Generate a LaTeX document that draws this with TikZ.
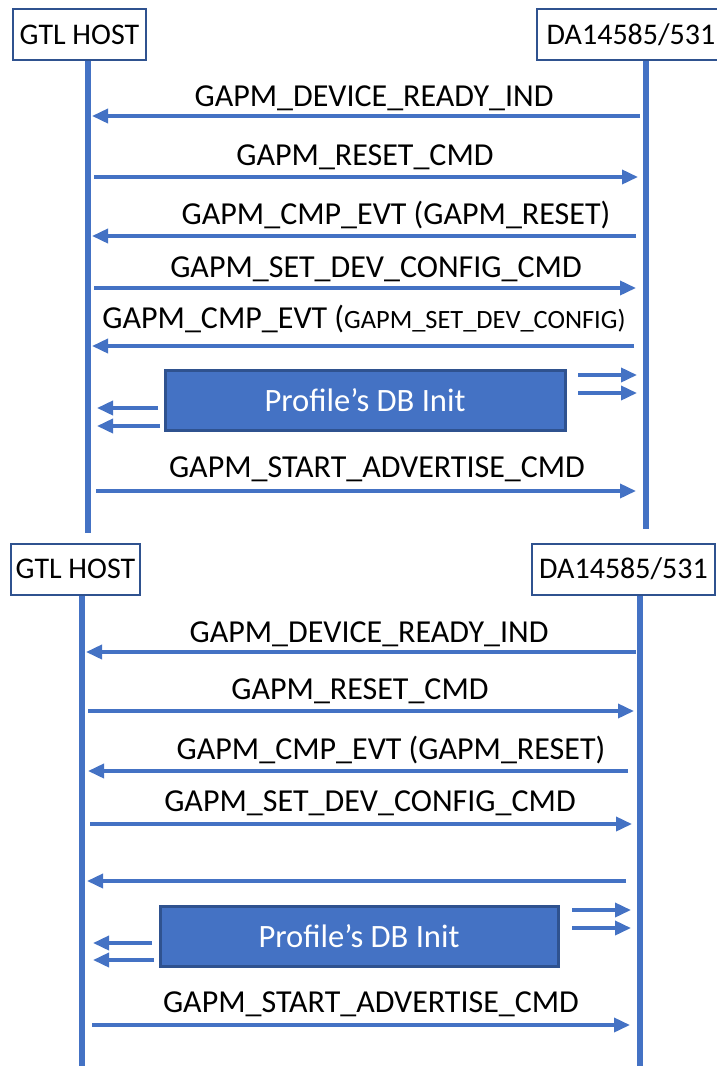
\documentclass[tikz,border=0pt]{standalone}
\usepackage{fontspec}
\setmainfont{Carlito}
\usepackage{xcolor}
\usetikzlibrary{arrows.meta}

\definecolor{lineblue}{HTML}{4472C4}
\definecolor{edgeblue}{HTML}{2F528F}

\tikzset{
  lifeline/.style={line width=3pt, draw=lineblue},
  msg/.style={line width=1.8pt, draw=lineblue, -{Triangle[length=8pt,width=7pt]}},
  partbox/.style={draw=edgeblue, line width=1pt, fill=white, minimum height=25.5pt, inner sep=0pt, font=\fontsize{15}{18}\selectfont},
  msglabel/.style={anchor=base, inner sep=0pt, font=\fontsize{16}{19}\selectfont},
  dbbox/.style={draw=edgeblue, line width=1.5pt, fill=lineblue, text=white, minimum height=30pt, inner sep=0pt, font=\fontsize{16.3}{19}\selectfont}
}

\begin{document}
\begin{tikzpicture}[x=0.5pt, y=-0.5pt]

    \useasboundingbox (0,0) rectangle (717,1066);

    % first chart
    \coordinate (H1t) at (88,60);
    \coordinate (H1b) at (88,533);
    \coordinate (D1t) at (646,60);
    \coordinate (D1b) at (646,529);

    \draw[lifeline] (H1t) -- (H1b);
    \draw[lifeline] (D1t) -- (D1b);

    \node[partbox, minimum width=66.5pt] (host1) at (79.5,34.5) {GTL HOST};
    \node[partbox, minimum width=94pt] (dev1) at (631,34.5) {DA14585/531};

    \coordinate (A1) at (640,116);  \coordinate (B1) at (92,116);
    \coordinate (A2) at (94,177);   \coordinate (B2) at (638,177);
    \coordinate (A3) at (636,236);  \coordinate (B3) at (92,236);
    \coordinate (A4) at (94,288);   \coordinate (B4) at (636,288);
    \coordinate (A5) at (634,346);  \coordinate (B5) at (92,346);
    \coordinate (A7) at (96,491);   \coordinate (B7) at (636,491);

    \draw[msg] (A1) -- (B1);
    \draw[msg] (A2) -- (B2);
    \draw[msg] (A3) -- (B3);
    \draw[msg] (A4) -- (B4);
    \draw[msg] (A5) -- (B5);
    \draw[msg] (A7) -- (B7);

    \node[msglabel] (m1) at (374,106) {GAPM\_DEVICE\_READY\_IND};
    \node[msglabel] (m2) at (365,165) {GAPM\_RESET\_CMD};
    \node[msglabel] (m3) at (396,224) {GAPM\_CMP\_EVT (GAPM\_RESET)};
    \node[msglabel] (m4) at (376,277) {GAPM\_SET\_DEV\_CONFIG\_CMD};
    \node[msglabel] (m5) at (364,328) {GAPM\_CMP\_EVT ({\fontsize{13.2}{15}\selectfont GAPM\_SET\_DEV\_CONFIG)}};
    \node[msglabel] (m7) at (377,477) {GAPM\_START\_ADVERTISE\_CMD};

    \node[dbbox, minimum width=200pt] (db1) at (365,400) {Profile’s DB Init};

    \coordinate (R1a) at (578,375); \coordinate (R1b) at (637,375);
    \coordinate (R2a) at (578,393); \coordinate (R2b) at (637,393);
    \coordinate (L1a) at (158,408); \coordinate (L1b) at (97,408);
    \coordinate (L2a) at (160,426); \coordinate (L2b) at (97,426);

    \draw[msg] (R1a) -- (R1b);
    \draw[msg] (R2a) -- (R2b);
    \draw[msg] (L1a) -- (L1b);
    \draw[msg] (L2a) -- (L2b);

    % second chart
    \coordinate (H2t) at (82,595);
    \coordinate (H2b) at (82,1066);
    \coordinate (D2t) at (640,595);
    \coordinate (D2b) at (640,1066);

    \draw[lifeline] (H2t) -- (H2b);
    \draw[lifeline] (D2t) -- (D2b);

    \node[partbox, minimum width=64.5pt] (host2) at (75.5,569) {GTL HOST};
    \node[partbox, minimum width=91.5pt] (dev2) at (623.5,569) {DA14585/531};

    \coordinate (C1) at (636,652);  \coordinate (E1) at (86,652);
    \coordinate (C2) at (88,711);   \coordinate (E2) at (634,711);
    \coordinate (C3) at (628,771);  \coordinate (E3) at (88,771);
    \coordinate (C4) at (90,824);   \coordinate (E4) at (632,824);
    \coordinate (C5) at (626,881);  \coordinate (E5) at (87,881);
    \coordinate (C7) at (92,1025);  \coordinate (E7) at (630,1025);

    \draw[msg] (C1) -- (E1);
    \draw[msg] (C2) -- (E2);
    \draw[msg] (C3) -- (E3);
    \draw[msg] (C4) -- (E4);
    \draw[msg] (C5) -- (E5);
    \draw[msg] (C7) -- (E7);

    \node[msglabel] (n1) at (369,642) {GAPM\_DEVICE\_READY\_IND};
    \node[msglabel] (n2) at (360,699) {GAPM\_RESET\_CMD};
    \node[msglabel] (n3) at (391,759) {GAPM\_CMP\_EVT (GAPM\_RESET)};
    \node[msglabel] (n4) at (370,811) {GAPM\_SET\_DEV\_CONFIG\_CMD};
    \node[msglabel] (n7) at (371,1012) {GAPM\_START\_ADVERTISE\_CMD};

    \node[dbbox, minimum width=199pt] (db2) at (359,936) {Profile’s DB Init};

    \coordinate (R3a) at (572,910); \coordinate (R3b) at (631,910);
    \coordinate (R4a) at (572,928); \coordinate (R4b) at (631,928);
    \coordinate (L3a) at (152,943); \coordinate (L3b) at (93,943);
    \coordinate (L4a) at (154,960); \coordinate (L4b) at (93,960);

    \draw[msg] (R3a) -- (R3b);
    \draw[msg] (R4a) -- (R4b);
    \draw[msg] (L3a) -- (L3b);
    \draw[msg] (L4a) -- (L4b);

\end{tikzpicture}
\end{document}
